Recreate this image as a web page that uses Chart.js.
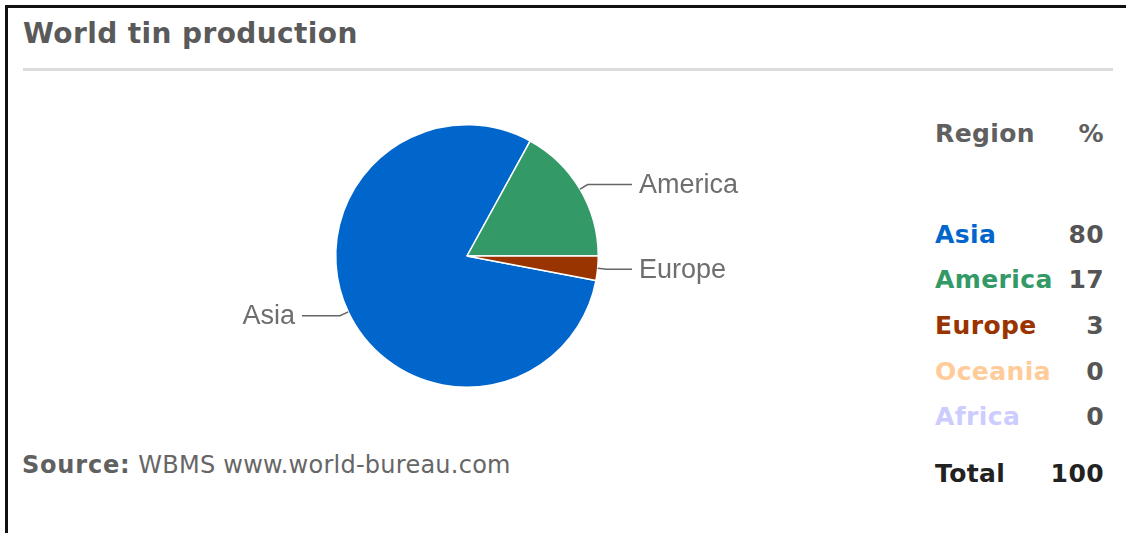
<!DOCTYPE html>
<html>
<head>
<meta charset="utf-8">
<script src="https://cdn.jsdelivr.net/npm/chart.js@4.4.1/dist/chart.umd.min.js"></script>
<style>
  html, body { margin: 0; padding: 0; background: #fff; }
  body { width: 1126px; height: 533px; position: relative; overflow: hidden; font-family: "DejaVu Sans", sans-serif; }
  .frame { position: absolute; left: 5px; top: 5px; width: 1200px; height: 600px; border-left: 3px solid #111; border-top: 3px solid #111; }
  .title { position: absolute; left: 23px; top: 20px; font-size: 28px; line-height: 28px; font-weight: bold; color: #5a5a5a; letter-spacing: 0.4px; white-space: nowrap; }
  .rule { position: absolute; left: 23px; top: 68px; width: 1090px; height: 3px; background: #dcdcdc; }
  #wrap { position: absolute; left: 177px; top: 100px; width: 580px; height: 312px; }
  .cell { position: absolute; font-size: 25px; line-height: 25px; font-weight: bold; white-space: nowrap; letter-spacing: 0.4px; }
  .num { text-align: right; width: 120px; }
  .source { position: absolute; left: 22px; top: 453px; font-size: 24px; line-height: 24px; color: #666; white-space: nowrap; letter-spacing: 0.25px; }
  .source b { letter-spacing: 0.8px; color: #606060; }
</style>
</head>
<body>
<div class="frame"></div>
<div class="title">World tin production</div>
<div class="rule"></div>
<div id="wrap"><canvas id="pie"></canvas></div>
<div id="table"></div>
<div class="source"><b>Source:</b> WBMS www.world-bureau.com</div>

<script>
const regions = ['Asia', 'America', 'Europe', 'Oceania', 'Africa'];
const shares = [80, 17, 3, 0, 0];
const regionColors = ['#0066cc', '#339966', '#993300', '#ffcc99', '#ccccff'];

// table on the right
const table = document.getElementById('table');
function addCell(text, x, baseline, color, isNum) {
  const d = document.createElement('div');
  d.className = 'cell' + (isNum ? ' num' : '');
  d.textContent = text;
  d.style.top = (baseline - 21) + 'px';
  d.style.left = (isNum ? 1104 - 120 : x) + 'px';
  d.style.color = color;
  table.appendChild(d);
}
addCell('Region', 935, 142, '#606060', false);
addCell('%', 0, 142, '#606060', true);
const rowBase = [243, 288, 334, 380, 425];
regions.forEach((r, i) => {
  addCell(r, 935, rowBase[i], regionColors[i], false);
  addCell(String(shares[i]), 0, rowBase[i], '#555', true);
});
const total = shares.reduce((a, b) => a + b, 0);
addCell('Total', 935, 482, '#222', false);
addCell(String(total), 0, 482, '#222', true);

// outside labels with leader lines
const sliceLabels = {
  id: 'sliceLabels',
  afterDatasetsDraw(chart) {
    const c = chart.ctx;
    const meta = chart.getDatasetMeta(0);
    c.save();
    c.font = '27px "Liberation Sans", Arial, sans-serif';
    c.textBaseline = 'middle';
    c.strokeStyle = '#666';
    c.fillStyle = '#6e6e6e';
    c.lineWidth = 1.5;
    meta.data.forEach((arc, i) => {
      if (!shares[i]) return;
      const p = arc.getProps(['x', 'y', 'startAngle', 'endAngle', 'outerRadius'], true);
      const mid = (p.startAngle + p.endAngle) / 2;
      const px = p.x + Math.cos(mid) * p.outerRadius;
      const py = p.y + Math.sin(mid) * p.outerRadius;
      // short radial bend before going horizontal
      const bx = px + Math.cos(mid) * 9;
      const by = py + Math.sin(mid) * 9;
      const right = Math.cos(mid) >= 0;
      const lineEnd = p.x + (right ? 165 : -165);
      const textX = p.x + (right ? 172 : -172);
      c.beginPath();
      c.moveTo(px, py);
      c.lineTo(bx, by);
      c.lineTo(lineEnd, by);
      c.stroke();
      c.textAlign = right ? 'left' : 'right';
      c.fillText(regions[i], textX, by + 1);
    });
    c.restore();
  }
};

new Chart(document.getElementById('pie'), {
  type: 'pie',
  data: {
    labels: regions,
    datasets: [{
      data: shares,
      backgroundColor: regionColors,
      borderColor: '#fff',
      borderWidth: ctx => (shares[ctx.dataIndex] ? 1.5 : 0)
    }]
  },
  options: {
    responsive: true,
    maintainAspectRatio: false,
    animation: false,
    rotation: 100.8,
    layout: { padding: { top: 24, bottom: 24 } },
    plugins: {
      legend: { display: false },
      tooltip: { enabled: true }
    }
  },
  plugins: [sliceLabels]
});
</script>
</body>
</html>
